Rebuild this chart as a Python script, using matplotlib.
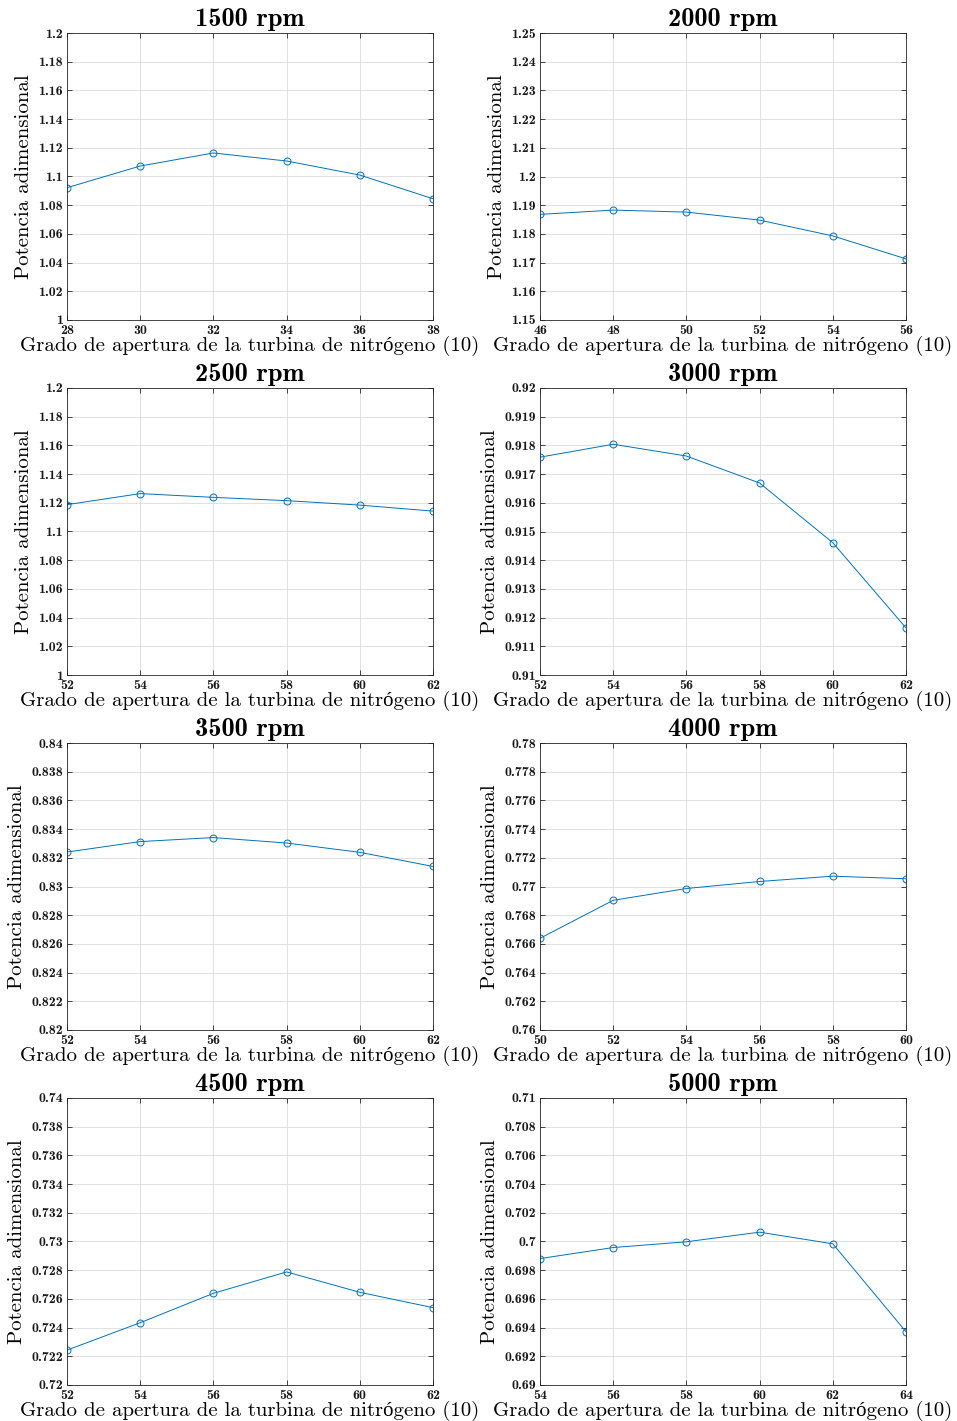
import matplotlib
matplotlib.use("Agg")
import matplotlib.pyplot as plt
import numpy as np

titles = ["1500 rpm", "2000 rpm", "2500 rpm", "3000 rpm",
          "3500 rpm", "4000 rpm", "4500 rpm", "5000 rpm"]

x_1500 = [28, 30, 32, 34, 36, 38]
y_1500 = [1.0922, 1.1073, 1.1164, 1.1108, 1.1010, 1.0845]

x_2000 = [46, 48, 50, 52, 54, 56]
y_2000 = [1.1868, 1.1883, 1.1876, 1.1848, 1.1793, 1.1713]

x_2500 = [52, 54, 56, 58, 60, 62]
y_2500 = [1.1187, 1.1264, 1.1238, 1.1215, 1.1184, 1.1142]

x_3000 = [52, 54, 56, 58, 60, 62]
y_3000 = [0.91759, 0.91804, 0.91763, 0.91669, 0.91461, 0.91164]

x_3500 = [52, 54, 56, 58, 60, 62]
y_3500 = [0.83240, 0.83313, 0.83341, 0.83303, 0.83238, 0.83140]

x_4000 = [50, 52, 54, 56, 58, 60]
y_4000 = [0.76639, 0.76904, 0.76986, 0.77035, 0.77072, 0.77054]

x_4500 = [52, 54, 56, 58, 60, 62]
y_4500 = [0.72243, 0.72434, 0.72639, 0.72788, 0.72646, 0.72539]

x_5000 = [54, 56, 58, 60, 62, 64]
y_5000 = [0.69881, 0.69958, 0.69998, 0.70065, 0.69984, 0.69371]

y_limits = [(1.0, 1.2, 0.02), (1.15, 1.25, 0.01), (1.0, 1.2, 0.02), (0.91, 0.92, 0.001),
            (0.82, 0.84, 0.002), (0.76, 0.78, 0.002), (0.72, 0.74, 0.002), (0.69, 0.71, 0.002)]

xs = [x_1500, x_2000, x_2500, x_3000, x_3500, x_4000, x_4500, x_5000]
ys = [y_1500, y_2000, y_2500, y_3000, y_3500, y_4000, y_4500, y_5000]

xlabel = "Grado de apertura de la turbina de nitrógeno (10)"
ylabel = "Potencia adimensional"
label_family = ["cmr10", "Liberation Serif"]

W, H = 957, 1421
fig = plt.figure(figsize=(W / 100, H / 100), dpi=100)

lefts = [67, 540]
widths = 366
tops = [33, 388, 743, 1098]
heights = 287

edge = "#262626"
line_color = "#0072BD"


def fmt(v):
    return f"{v:.4f}".rstrip("0").rstrip(".")


for i in range(8):
    r, c = divmod(i, 2)
    l = lefts[c] / W
    b = 1 - (tops[r] + heights) / H
    ax = fig.add_axes([l, b, widths / W, heights / H])
    x = xs[i]
    y = ys[i]
    ax.plot(x, y, "-o", color=line_color, lw=0.7, ms=5, mfc="none", mew=0.7)
    lo, hi, st = y_limits[i]
    yt = np.round(np.arange(lo, hi + st / 2, st), 5)
    ax.set_ylim(lo, hi)
    ax.set_yticks(yt)
    ax.set_yticklabels([fmt(v) for v in yt])
    ax.set_xlim(x[0], x[-1])
    ax.set_xticks(x)
    ax.set_xticklabels([str(v) for v in x])
    for lab in ax.get_xticklabels() + ax.get_yticklabels():
        lab.set_fontfamily("cmb10")
        lab.set_fontsize(10)
        lab.set_color("#1a1a1a")
    ax.tick_params(direction="in", top=True, right=True, length=3.5, width=0.6,
                   color=edge)
    ax.tick_params(axis="y", pad=3)
    ax.tick_params(axis="x", pad=3.5)
    ax.grid(True, color="#dcdcdc", lw=0.6)
    ax.set_axisbelow(True)
    for sp in ax.spines.values():
        sp.set_color(edge)
        sp.set_linewidth(0.6)
    ax.set_title(titles[i], fontfamily="cmb10", fontsize=19, pad=5)
    ax.set_xlabel(xlabel, fontfamily=label_family, fontsize=15, labelpad=-0.5)
    ax.set_ylabel(ylabel, fontfamily=label_family, fontsize=15, labelpad=4)

fig.savefig("out.png", dpi=100, facecolor="white")
